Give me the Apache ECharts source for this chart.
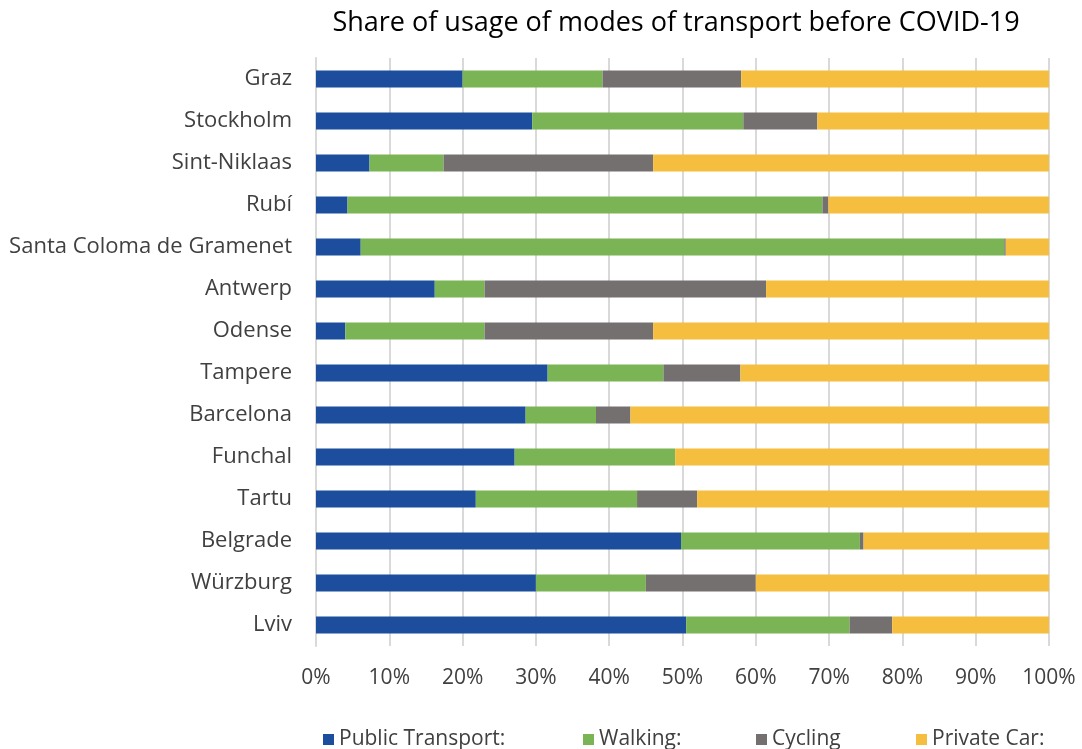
<!DOCTYPE html>
<html>
<head>
<meta charset="utf-8">
<script src="https://cdn.jsdelivr.net/npm/echarts@6/dist/echarts.min.js"></script>
<style>html,body{margin:0;padding:0;background:#fff}#c{width:1082px;height:749px}</style>
</head>
<body>
<div id="c"></div>
<script>
const categories = ['Graz','Stockholm','Sint-Niklaas','Rubí','Santa Coloma de Gramenet','Antwerp','Odense','Tampere','Barcelona','Funchal','Tartu','Belgrade','Würzburg','Lviv'];
const publicTransport = [20.0, 29.5, 7.3, 4.3, 6.1, 16.2, 4.0, 31.6, 28.6, 27.1, 21.8, 49.8, 30.0, 50.5];
const walking =         [19.1, 28.8, 10.1, 64.8, 87.8, 6.8, 19.0, 15.8, 9.6, 21.9, 22.0, 24.4, 15.0, 22.3];
const cycling =         [18.9, 10.1, 28.6, 0.8, 0.2, 38.4, 23.0, 10.5, 4.7, 0.0, 8.2, 0.5, 15.0, 5.8];
const privateCar =      [42.0, 31.6, 54.0, 30.1, 5.9, 38.6, 54.0, 42.1, 57.1, 51.0, 48.0, 25.3, 40.0, 21.4];
const seriesNames = ['Public Transport:', 'Walking:', 'Cycling', 'Private Car:'];
const colors = ['#1c4e9d', '#7bb454', '#747070', '#f6be3f'];

const font = '"Open Sans", sans-serif';
const dataSets = [publicTransport, walking, cycling, privateCar];
const legendLefts = [318, 578, 751, 911];

const chart = echarts.init(document.getElementById('c'));
chart.setOption({
  animation: false,
  title: {
    text: 'Share of usage of modes of transport before COVID-19',
    top: 10, left: 676, textAlign: 'center', padding: 0,
    textStyle: { fontFamily: font, fontSize: 27, fontWeight: 'normal', color: '#000' }
  },
  legend: seriesNames.map((n, i) => ({
    data: [n], left: legendLefts[i], top: 724,
    itemWidth: 11, itemHeight: 11, icon: 'rect', itemGap: 6,
    textStyle: { fontFamily: font, fontSize: 21, color: '#404040' }
  })),
  grid: { left: 316, right: 33, top: 58, height: 588, containLabel: false },
  xAxis: {
    type: 'value', min: 0, max: 100, interval: 10,
    axisLabel: { formatter: '{value}%', fontFamily: font, fontSize: 21, color: '#404040', margin: 22 },
    splitLine: { show: true, lineStyle: { color: '#d9d9d9', width: 2 } },
    axisLine: { show: false }, axisTick: { show: false }
  },
  yAxis: {
    type: 'category', data: categories, inverse: true,
    axisLabel: { fontFamily: font, fontSize: 22, color: '#404040', margin: 24 },
    axisLine: { show: true, lineStyle: { color: '#d9d9d9', width: 2 } },
    axisTick: { show: false }
  },
  series: dataSets.map((d, i) => ({
    name: seriesNames[i], type: 'bar', stack: 'total', data: d,
    barWidth: 17, itemStyle: { color: colors[i] }
  }))
});
</script>
</body>
</html>
